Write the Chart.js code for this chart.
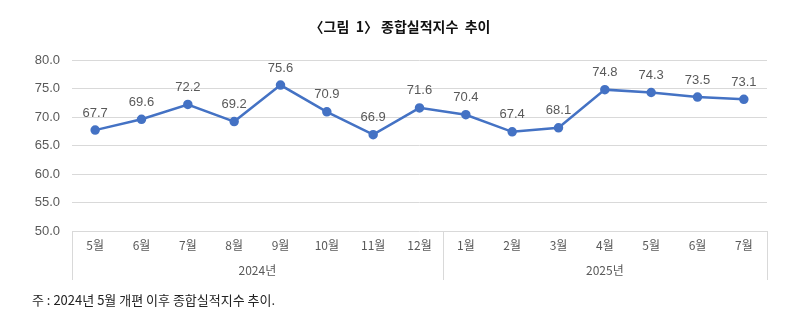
<!DOCTYPE html>
<html>
<head>
<meta charset="utf-8">
<script src="https://cdn.jsdelivr.net/npm/chart.js@4.4.1/dist/chart.umd.min.js"></script>
<style>
  body { margin: 0; background: #fff; }
  #wrap { width: 800px; height: 332px; }
</style>
</head>
<body>
<div id="wrap"><canvas id="chart" width="800" height="332"></canvas></div>
<script>
// 종합실적지수 월별 추이 (2024.5 ~ 2025.7)
var months = ["5월", "6월", "7월", "8월", "9월", "10월", "11월", "12월",
              "1월", "2월", "3월", "4월", "5월", "6월", "7월"];
var years = ["2024년", "2025년"];
var yearSpan = [8, 7];   // 해마다 몇 개월인지
var index = [67.7, 69.6, 72.2, 69.2, 75.6, 70.9, 66.9, 71.6,
             70.4, 67.4, 68.1, 74.8, 74.3, 73.5, 73.1];
var yTicks = [50, 55, 60, 65, 70, 75, 80];

var titleText = "〈그림  1〉 종합실적지수  추이";
var noteText = "주 : 2024년 5월 개편 이후 종합실적지수 추이.";

var KR = "'Noto Sans CJK KR', 'Liberation Sans', sans-serif";
var NUM = "'Liberation Sans', 'Noto Sans CJK KR', sans-serif";
var gridColor = "#d9d9d9";

// 제목, 연도 구분 박스, 값 라벨, 주석
var extras = {
  id: "extras",
  afterDatasetsDraw: function (chart) {
    var ctx = chart.ctx;
    var area = chart.chartArea;
    var x = chart.scales.x;
    var meta = chart.getDatasetMeta(0);

    ctx.save();
    // 값 라벨
    ctx.fillStyle = "#595959";
    ctx.font = "13px " + NUM;
    ctx.textAlign = "center";
    ctx.textBaseline = "middle";
    meta.data.forEach(function (pt, i) {
      ctx.fillText(index[i].toFixed(1), pt.x, pt.y - 17);
    });

    // 연도 구분선
    var step = x.getPixelForValue(1) - x.getPixelForValue(0);
    var bottom = area.bottom + 49;
    ctx.strokeStyle = gridColor;
    ctx.lineWidth = 1;
    var start = 0;
    var edges = [area.left];
    yearSpan.forEach(function (n) {
      start += n;
      edges.push(x.getPixelForValue(start - 1) + step / 2);
    });
    edges.forEach(function (ex) {
      var px = Math.round(ex) + 0.5;
      ctx.beginPath();
      ctx.moveTo(px, area.bottom);
      ctx.lineTo(px, bottom);
      ctx.stroke();
    });

    // 연도 라벨
    ctx.fillStyle = "#595959";
    ctx.font = "12px " + KR;
    years.forEach(function (y, i) {
      ctx.fillText(y, (edges[i] + edges[i + 1]) / 2, area.bottom + 39);
    });

    // 제목
    ctx.fillStyle = "#111";
    ctx.font = "bold 14px " + KR;
    ctx.fillText(titleText, 400, 27);

    // 주석
    ctx.textAlign = "left";
    ctx.fillStyle = "#222";
    ctx.font = "13px " + KR;
    ctx.fillText(noteText, 32, 300);
    ctx.restore();
  }
};

new Chart(document.getElementById("chart"), {
  type: "line",
  data: {
    labels: months,
    datasets: [{
      data: index,
      borderColor: "#4472c4",
      backgroundColor: "#4472c4",
      borderWidth: 2.5,
      pointRadius: 3.5,
      pointHoverRadius: 3.5,
      tension: 0
    }]
  },
  options: {
    responsive: false,
    animation: false,
    layout: { padding: { top: 60, right: 33, left: 0, bottom: 0 } },
    plugins: {
      legend: { display: false },
      tooltip: { enabled: false }
    },
    scales: {
      x: {
        offset: true,
        grid: { display: false, drawTicks: false, offset: true },
        border: { display: false },
        ticks: {
          color: "#595959",
          font: { family: KR, size: 12 },
          padding: 7,
          maxRotation: 0,
          autoSkip: false
        },
        afterFit: function (s) { s.height = 101; }
      },
      y: {
        min: yTicks[0],
        max: yTicks[yTicks.length - 1],
        afterBuildTicks: function (s) {
          s.ticks = yTicks.map(function (v) { return { value: v }; });
        },
        grid: { color: gridColor, drawTicks: false },
        border: { display: false },
        ticks: {
          color: "#595959",
          font: { family: NUM, size: 13 },
          padding: 12,
          callback: function (v) { return Number(v).toFixed(1); }
        },
        afterFit: function (s) { s.width = 72; }
      }
    }
  },
  plugins: [extras]
});
</script>
</body>
</html>
